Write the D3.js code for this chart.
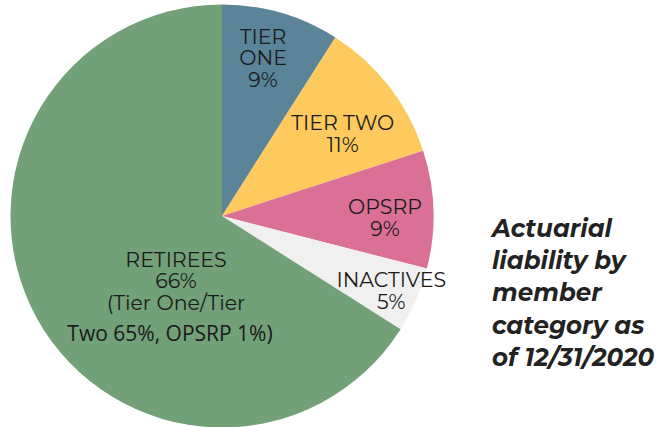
<!DOCTYPE html>
<html>
<head>
<meta charset="utf-8">
<script src="https://cdn.jsdelivr.net/npm/d3@7/dist/d3.min.js"></script>
<style>
  html, body { margin: 0; padding: 0; background: #fff; }
  svg { display: block; }
</style>
</head>
<body>
<svg id="chart" width="670" height="427"></svg>
<script>
// member categories, clockwise from 12 o'clock
var categories = ["TIER ONE", "TIER TWO", "OPSRP", "INACTIVES", "RETIREES"];
var shares = [9, 11, 9, 5, 66];
var colors = ["#5b8499", "#fec95d", "#db7096", "#f0f0f0", "#72a077"];
var retireeNote = ["(Tier One/Tier", "Two 65%, OPSRP 1%)"];
var titleLines = ["Actuarial", "liability by", "member", "category as", "of 12/31/2020"];

var W = 670, H = 427;
var cx = 222, cy = 216, R = 211.5;

var svg = d3.select("#chart");
var g = svg.append("g").attr("transform", "translate(" + cx + "," + cy + ")");

var pie = d3.pie().sort(null).value(function(d) { return d; });
var arcs = pie(shares);
var arc = d3.arc().innerRadius(0).outerRadius(R);

g.selectAll("path.slice")
    .data(arcs)
    .enter()
    .append("path")
    .attr("class", "slice")
    .attr("d", arc)
    .attr("fill", function(d, i) { return colors[i]; });

// label placement: radius and angle nudge per slice (tuned by eye)
var labelPlace = [
    {r: 163, da: -1.6, lines: ["TIER", "ONE"]},
    {r: 146, da: 3.6, lines: ["TIER TWO"]},
    {r: 163, da: 2.6, lines: ["OPSRP"]},
    {r: 185, da: 0.4, lines: ["INACTIVES"]},
    {r: 0, da: 0, lines: ["RETIREES"]}
];

var labelFont = "'Montserrat', 'Lato', 'Open Sans', sans-serif";
var lineH = 21.7;

arcs.forEach(function(d, i) {
    var p = labelPlace[i];
    var lines = p.lines.concat([shares[i] + "%"]);
    var x, y;
    if (i == 4) {
        lines = lines.concat([retireeNote[0]]);
        x = -46; y = 65.4;
    } else {
        var a = (d.startAngle + d.endAngle) / 2 + p.da * Math.PI / 180;
        x = p.r * Math.sin(a);
        y = -p.r * Math.cos(a);
    }
    var first = y - (lines.length - 1) * lineH / 2 + 7;
    var t = g.append("text")
        .attr("text-anchor", "middle")
        .attr("font-family", labelFont)
        .attr("font-size", 20.5)
        .attr("fill", "#1a1a1a");
    lines.forEach(function(s, k) {
        t.append("tspan").attr("x", x).attr("y", first + k * lineH).text(s);
    });
    if (i == 4) {
        // last line of the retiree note, set in a different face
        g.append("text")
            .attr("text-anchor", "middle")
            .attr("x", x - 6)
            .attr("y", 341 - cy)
            .attr("font-family", "'Open Sans', 'Noto Sans', sans-serif")
            .attr("font-size", 21)
            .attr("fill", "#1a1a1a")
            .text(retireeNote[1]);
    }
});

// side caption
var cap = svg.append("text")
    .attr("font-family", "'Montserrat', 'Lato', 'Open Sans', sans-serif")
    .attr("font-size", 24.5)
    .attr("font-weight", "bold")
    .attr("font-style", "italic")
    .attr("fill", "#222");
titleLines.forEach(function(s, k) {
    cap.append("tspan").attr("x", 492).attr("y", 237 + k * 32.2).text(s);
});
</script>
</body>
</html>
